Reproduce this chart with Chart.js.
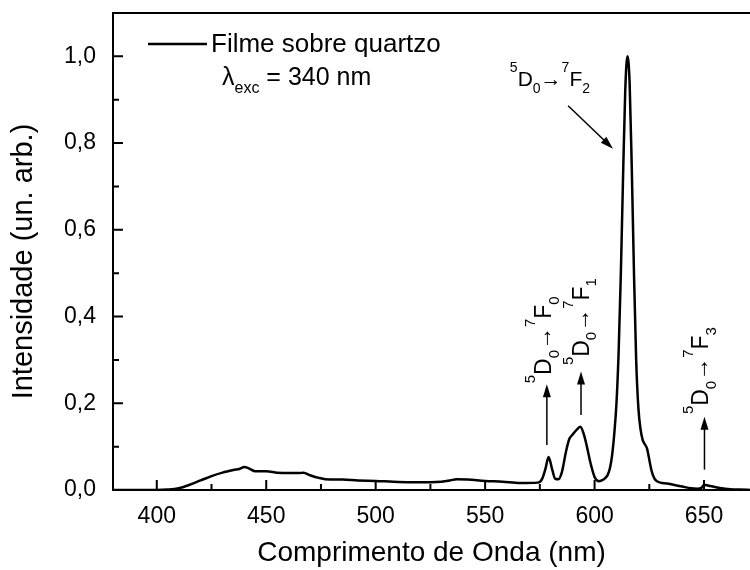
<!DOCTYPE html>
<html>
<head>
<meta charset="utf-8">
<script src="https://cdn.jsdelivr.net/npm/chart.js@4.4.1/dist/chart.umd.min.js"></script>
<style>
  html, body { margin: 0; padding: 0; background: #fff; }
  #wrap { width: 750px; height: 570px; }
</style>
</head>
<body>
<div id="wrap"><canvas id="spectrum"></canvas></div>
<script>
// emission spectrum (nm / normalised intensity)
var wavelength = [380, 395, 400, 405, 410, 415, 420, 425, 430, 435,
    438, 440, 442, 445, 450, 455, 460, 465, 467, 470,
    474, 477, 485, 492, 500, 508, 516, 525, 530, 534,
    537, 542, 550, 558, 566, 574, 576, 577.5, 579, 580.5,
    582, 583.5, 585, 587, 588.5, 590, 592, 593.5, 595, 596.5,
    598, 600, 602, 604, 606, 607, 608, 609, 610, 611,
    612, 613, 614, 615, 616, 617, 618, 619, 620, 621,
    622, 623, 624, 625, 626, 627, 628, 630, 633, 636,
    640, 644, 647, 649, 650, 652, 655, 658, 662, 666, 672];
var intensity = [0, 0, 0, 0.001, 0.004, 0.012, 0.022, 0.032, 0.040, 0.046,
    0.049, 0.053, 0.050, 0.043, 0.043, 0.040, 0.039, 0.039, 0.040, 0.034,
    0.028, 0.025, 0.024, 0.022, 0.021, 0.019, 0.018, 0.018, 0.019, 0.022,
    0.025, 0.024, 0.021, 0.019, 0.016, 0.017, 0.025, 0.048, 0.076, 0.050,
    0.026, 0.025, 0.040, 0.090, 0.118, 0.128, 0.140, 0.146, 0.130, 0.100,
    0.065, 0.030, 0.020, 0.024, 0.035, 0.050, 0.080, 0.130, 0.200, 0.320,
    0.500, 0.720, 0.920, 1.000, 0.940, 0.740, 0.500, 0.300, 0.190, 0.140,
    0.115, 0.105, 0.095, 0.070, 0.045, 0.030, 0.022, 0.017, 0.015, 0.012,
    0.008, 0.004, 0.003, 0.006, 0.012, 0.010, 0.007, 0.004, 0.002, 0.001, 0];

var xTicks = [400, 450, 500, 550, 600, 650];
var yTicks = [0, 0.2, 0.4, 0.6, 0.8, 1.0];
var seriesLabel = 'Filme sobre quartzo';
var xTitle = 'Comprimento de Onda (nm)';
var yTitle = 'Intensidade (un. arb.)';

var FONT = '"Liberation Sans", Arial, sans-serif';

// transition labels: [nm, intensity] anchor, text parts, rotation
var labels = [
    {at: [561.3, 0.932], angle: 0, size: 21, parts: [['5', 'sup'], ['D', ''], ['0', 'sub'], ['\u2192', ''], ['7', 'sup'], ['F', ''], ['2', 'sub']]},
    {at: [580.1, 0.246], angle: -Math.PI / 2, size: 23, parts: [['5', 'sup'], ['D', ''], ['0', 'sub'], ['\u2192', ''], ['7', 'sup'], ['F', ''], ['0', 'sub']]},
    {at: [597.3, 0.288], angle: -Math.PI / 2, size: 23, parts: [['5', 'sup'], ['D', ''], ['0', 'sub'], ['\u2192', ''], ['7', 'sup'], ['F', ''], ['1', 'sub']]},
    {at: [652.0, 0.175], angle: -Math.PI / 2, size: 23, parts: [['5', 'sup'], ['D', ''], ['0', 'sub'], ['\u2192', ''], ['7', 'sup'], ['F', ''], ['3', 'sub']]}
];
var arrows = [
    [[587.9, 0.886], [608.4, 0.787]],
    [[578.2, 0.104], [578.2, 0.244]],
    [[593.8, 0.173], [593.8, 0.273]],
    [[650.2, 0.047], [650.2, 0.169]]
];

function drawRich(ctx, parts, x, y, angle, size) {
    var small = Math.round(size * 0.65);
    ctx.save();
    ctx.translate(x, y);
    ctx.rotate(angle);
    ctx.textAlign = 'left';
    ctx.textBaseline = 'alphabetic';
    var cx = 0;
    parts.forEach(function (p) {
        var s = p[1] ? small : size;
        ctx.font = s + 'px ' + FONT;
        var dy = p[1] === 'sup' ? -size * 0.68 : (p[1] === 'sub' ? size * 0.33 : 0);
        ctx.fillText(p[0], cx, dy);
        cx += ctx.measureText(p[0]).width;
    });
    ctx.restore();
}

function drawArrow(ctx, x1, y1, x2, y2) {
    var a = Math.atan2(y2 - y1, x2 - x1);
    var len = 13, half = 4;
    ctx.beginPath();
    ctx.moveTo(x1, y1);
    ctx.lineTo(x2 - Math.cos(a) * len * 0.8, y2 - Math.sin(a) * len * 0.8);
    ctx.stroke();
    ctx.beginPath();
    ctx.moveTo(x2, y2);
    ctx.lineTo(x2 - Math.cos(a) * len - Math.sin(a) * half, y2 - Math.sin(a) * len + Math.cos(a) * half);
    ctx.lineTo(x2 - Math.cos(a) * len + Math.sin(a) * half, y2 - Math.sin(a) * len - Math.cos(a) * half);
    ctx.closePath();
    ctx.fill();
}

var framePlugin = {
    id: 'frame',
    afterDraw: function (chart) {
        var ctx = chart.ctx;
        var area = chart.chartArea;
        var xs = chart.scales.x;
        var ys = chart.scales.y;
        ctx.save();
        ctx.strokeStyle = '#000';
        ctx.fillStyle = '#000';
        ctx.lineWidth = 2;
        ctx.lineCap = 'butt';

        // box (right side is cut off in the original)
        ctx.beginPath();
        ctx.moveTo(area.right, area.top);
        ctx.lineTo(area.left, area.top);
        ctx.lineTo(area.left, area.bottom);
        ctx.lineTo(area.right, area.bottom);
        ctx.stroke();

        // inward tick marks, minor ones halfway
        ctx.beginPath();
        xTicks.forEach(function (v) {
            var px = xs.getPixelForValue(v);
            ctx.moveTo(px, area.bottom);
            ctx.lineTo(px, area.bottom - 10);
            var mx = xs.getPixelForValue(v + 25);
            if (mx < area.right) {
                ctx.moveTo(mx, area.bottom);
                ctx.lineTo(mx, area.bottom - 6);
            }
        });
        var mx0 = xs.getPixelForValue(xTicks[0] - 25);
        if (mx0 > area.left) {
            ctx.moveTo(mx0, area.bottom);
            ctx.lineTo(mx0, area.bottom - 6);
        }
        yTicks.forEach(function (v) {
            var py = ys.getPixelForValue(v);
            ctx.moveTo(area.left, py);
            ctx.lineTo(area.left + 10, py);
            var my = ys.getPixelForValue(v + 0.1);
            if (my > area.top) {
                ctx.moveTo(area.left, my);
                ctx.lineTo(area.left + 6, my);
            }
        });
        ctx.stroke();

        // y title, centred a little below the middle of the axis as in the original
        ctx.save();
        ctx.translate(24, (area.top + area.bottom) / 2 + 10);
        ctx.rotate(-Math.PI / 2);
        ctx.font = '29px ' + FONT;
        ctx.textAlign = 'center';
        ctx.textBaseline = 'middle';
        ctx.fillText(yTitle, 0, 0);
        ctx.restore();

        // legend
        var ds = chart.data.datasets[0];
        ctx.lineWidth = ds.borderWidth;
        ctx.beginPath();
        ctx.moveTo(148, 44);
        ctx.lineTo(207, 44);
        ctx.stroke();
        ctx.font = '26px ' + FONT;
        ctx.textBaseline = 'middle';
        ctx.fillText(ds.label, 211, 45);
        drawRich(ctx, [['\u03bb', ''], ['exc', 'sub'], [' = 340 nm', '']], 222, 85, 0, 25);

        // transition labels and arrows
        labels.forEach(function (l) {
            drawRich(ctx, l.parts, xs.getPixelForValue(l.at[0]), ys.getPixelForValue(l.at[1]), l.angle, l.size);
        });
        ctx.lineWidth = 1.5;
        arrows.forEach(function (a) {
            drawArrow(ctx, xs.getPixelForValue(a[0][0]), ys.getPixelForValue(a[0][1]),
                xs.getPixelForValue(a[1][0]), ys.getPixelForValue(a[1][1]));
        });
        ctx.restore();
    }
};

var points = wavelength.map(function (w, i) {
    return {x: w, y: intensity[i]};
});

new Chart(document.getElementById('spectrum'), {
    type: 'line',
    data: {
        datasets: [{
            label: seriesLabel,
            data: points,
            borderColor: '#000',
            borderWidth: 2.5,
            pointRadius: 0,
            fill: false,
            cubicInterpolationMode: 'monotone'
        }]
    },
    options: {
        responsive: true,
        maintainAspectRatio: false,
        animation: false,
        layout: {padding: {top: 13, right: 0, bottom: 0, left: 0}},
        plugins: {
            legend: {display: false},
            tooltip: {enabled: false}
        },
        scales: {
            x: {
                type: 'linear',
                min: 380,
                max: 671,
                grid: {display: false},
                border: {display: false},
                afterBuildTicks: function (scale) {
                    scale.ticks = xTicks.map(function (v) { return {value: v}; });
                },
                afterFit: function (scale) {
                    scale.height = 80;
                    scale.paddingLeft = 0;
                    scale.paddingRight = 0;
                },
                ticks: {
                    color: '#000',
                    padding: 5,
                    font: {family: FONT, size: 23}
                },
                title: {
                    display: true,
                    text: xTitle,
                    color: '#000',
                    padding: {top: 0, bottom: 0},
                    font: {family: FONT, size: 28}
                }
            },
            y: {
                min: 0,
                max: 1.1,
                grid: {display: false},
                border: {display: false},
                afterBuildTicks: function (scale) {
                    scale.ticks = yTicks.map(function (v) { return {value: v}; });
                },
                afterFit: function (scale) {
                    scale.width = 113;
                    scale.paddingTop = 0;
                    scale.paddingBottom = 0;
                },
                ticks: {
                    color: '#000',
                    padding: 9,
                    font: {family: FONT, size: 23},
                    callback: function (v) { return v.toFixed(1).replace('.', ','); }
                },
                title: {display: false}
            }
        }
    },
    plugins: [framePlugin]
});
</script>
</body>
</html>
